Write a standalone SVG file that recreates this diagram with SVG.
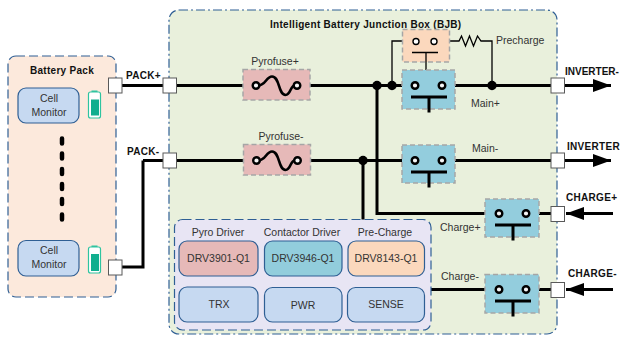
<svg xmlns="http://www.w3.org/2000/svg" width="620" height="337" viewBox="0 0 620 337">
<defs>
<style>
text{font-family:"Liberation Sans",Arial,sans-serif;font-size:10.5px;fill:#333}
.b{font-size:10px;font-weight:bold;fill:#111;letter-spacing:.3px}
.m{text-anchor:middle}
.cont{fill:#93cddd;stroke:#a6a6a6;stroke-width:1.5;stroke-dasharray:5 3}
.fuse{fill:#e6b9b8;stroke:#a6a6a6;stroke-width:1.5;stroke-dasharray:5 3}
.pre{fill:#fbd8bd;stroke:#a6a6a6;stroke-width:1.5;stroke-dasharray:5 3}
.blk{fill:#c6d9f1;stroke:#2f5f94;stroke-width:1.2}
.w{fill:none;stroke:#000;stroke-width:3}
.t{fill:none;stroke:#000;stroke-width:1.3}
.term{fill:#f4f4f4;stroke:#000;stroke-width:2.4}
.port{fill:#fff;stroke:#595959;stroke-width:1}
.bar{fill:none;stroke:#000;stroke-width:3}
.batt{fill:#fff;stroke:#2fc4a0;stroke-width:1.2}
</style>
<marker id="ah" markerUnits="userSpaceOnUse" markerWidth="18" markerHeight="14" refX="18" refY="7" orient="auto"><path d="M0 0.5L18 7L0 13.5Z" fill="#000"/></marker>
<g id="contact">
<path class="bar" d="M-4 11.500H32M14 11.500V27"/>
<circle class="term" cx="0" cy="0" r="3.300"/><circle class="term" cx="27" cy="0" r="3.300"/>
</g>
</defs>
<g id="battery-pack">
<rect x="8" y="56" width="108" height="241" rx="8" fill="#fce9dc" stroke="#2f5f94" stroke-width="1.2" stroke-dasharray="9 4"/>
<text class="b m" x="62" y="74">Battery Pack</text>
</g>
<g id="bjb">
<rect x="169" y="10" width="388" height="324" rx="10" fill="#e9f0dc" stroke="#2f5f94" stroke-width="1.2" stroke-dasharray="9 3 2 3"/>
<text class="b" x="270" y="28">Intelligent Battery Junction Box (BJB)</text>
</g>
<g id="connectors">
<path class="w" d="M122 85.500H551M176 160.500H551M143 160.500H163M122 267H143V160.500"/>
<path class="w" d="M377 85.500V213.500H551M363 160.500V220M431 289.500H551"/>
<path class="t" d="M392 85.500V41H416M434 41H459L461.500 36L465.500 46L469.500 36L473.500 46L477.500 36L481 41H492V85.500M426 52V70"/>
<path class="w" marker-end="url(#ah)" d="M564 85.500H611"/>
<path class="w" marker-end="url(#ah)" d="M564 160.500H611"/>
<path class="w" marker-end="url(#ah)" d="M613 213.500H566"/>
<path class="w" marker-end="url(#ah)" d="M613 289.500H566"/>
<circle cx="377" cy="85.500" r="4.700"/><circle cx="392" cy="85.500" r="4.700"/><circle cx="363" cy="160.500" r="4.700"/><circle cx="492" cy="85.500" r="4.700"/>
</g>
<g id="cell-monitor-1"><rect class="blk" x="18" y="88" width="61" height="35" rx="8"/><text class="m" x="49" y="102">Cell</text><text class="m" x="49" y="116">Monitor</text></g>
<g id="battery-1"><rect class="batt" x="88.500" y="92" width="12" height="26" rx="2"/><rect x="91.500" y="90.500" width="6" height="1.500" fill="#2fc4a0"/><rect x="91" y="99.500" width="8" height="16" fill="#10ae8e"/></g>
<g id="dots" fill="none" stroke="#000" stroke-width="4.500" stroke-linecap="round"><path d="M62 138.500v5M62 153.500v5M62 169v5M62 184v5M62 199v5M62 214.500v5"/></g>
<g id="cell-monitor-2"><rect class="blk" x="18" y="240.500" width="61" height="35.500" rx="8"/><text class="m" x="49" y="254">Cell</text><text class="m" x="49" y="268">Monitor</text></g>
<g id="battery-2"><rect class="batt" x="88.500" y="247" width="12" height="26" rx="2"/><rect x="91.500" y="245.500" width="6" height="1.500" fill="#2fc4a0"/><rect x="91" y="254" width="8" height="17" fill="#10ae8e"/></g>
<g id="port-pack-plus-out"><rect class="port" x="108.500" y="78" width="13.500" height="15"/></g>
<g id="port-pack-minus-out"><rect class="port" x="108.500" y="260" width="13.500" height="15"/></g>
<g id="port-pack-plus"><rect class="port" x="163" y="78" width="13.500" height="15"/><text class="b" x="126" y="79">PACK+</text></g>
<g id="port-pack-minus"><rect class="port" x="163" y="153" width="13.500" height="15"/><text class="b" x="127" y="155">PACK-</text></g>
<g id="port-inverter-plus"><rect class="port" x="551" y="78" width="13.500" height="15"/><text class="b" x="565" y="75" style="letter-spacing:0">INVERTER-</text></g>
<g id="port-inverter-minus"><rect class="port" x="551" y="153" width="13.500" height="15"/><text class="b" x="567" y="150">INVERTER</text></g>
<g id="port-charge-plus"><rect class="port" x="551" y="206.500" width="13.500" height="15"/><text class="b" x="566" y="201">CHARGE+</text></g>
<g id="port-charge-minus"><rect class="port" x="551" y="282.500" width="13.500" height="15"/><text class="b" x="568" y="277">CHARGE-</text></g>
<g id="pyrofuse-plus"><rect class="fuse" x="243" y="69.500" width="67" height="30.500"/>
<path d="M258 85.500C266 85.500 266 76.500 272 76.500C280 76.500 278 95 285.500 95C291 95 290 85.500 295 85.500" fill="none" stroke="#000" stroke-width="2.600"/>
<circle class="term" cx="256" cy="85.500" r="3.300"/><circle class="term" cx="297" cy="85.500" r="3.300"/>
<text class="m" x="275" y="65">Pyrofuse+</text></g>
<g id="pyrofuse-minus"><rect class="fuse" x="243.500" y="144.500" width="67" height="30.500"/>
<path d="M258 160.500C266 160.500 266 151.500 272 151.500C280 151.500 278 170 285.500 170C291 170 290 160.500 295 160.500" fill="none" stroke="#000" stroke-width="2.600"/>
<circle class="term" cx="256.500" cy="160.500" r="3.300"/><circle class="term" cx="297.500" cy="160.500" r="3.300"/>
<text class="m" x="281" y="140">Pyrofuse-</text></g>
<g id="precharge"><rect class="pre" x="402.500" y="29.500" width="47" height="32.500"/>
<path class="t" d="M412 52.500H438M426 52.500V62"/>
<circle cx="416" cy="41.500" r="3" fill="#fff" stroke="#000" stroke-width="1.400"/><circle cx="434" cy="41.500" r="3" fill="#fff" stroke="#000" stroke-width="1.400"/>
<text x="496" y="44">Precharge</text></g>
<g id="main-plus"><rect class="cont" x="402" y="70" width="53" height="39"/><use href="#contact" x="415" y="85.500"/><text x="471" y="107">Main+</text></g>
<g id="main-minus"><rect class="cont" x="402" y="145" width="53" height="38"/><use href="#contact" x="415" y="160.500"/><text x="472" y="152">Main-</text></g>
<g id="charge-plus"><rect class="cont" x="485" y="199" width="54" height="38"/><use href="#contact" x="499" y="213.500"/><text x="440" y="231">Charge+</text></g>
<g id="charge-minus"><rect class="cont" x="485" y="274.500" width="54" height="38.500"/><use href="#contact" x="499" y="289.500"/><text x="441" y="280">Charge-</text></g>
<g id="control-box"><rect x="174.500" y="219.500" width="256.500" height="110.500" rx="8" fill="#e8e5f4" stroke="#2f5f94" stroke-width="1.200" stroke-dasharray="9 4"/>
<text class="m" x="218" y="236">Pyro Driver</text><text class="m" x="302" y="236">Contactor Driver</text><text class="m" x="385" y="236">Pre-Charge</text></g>
<g id="drv3901"><rect x="179" y="241" width="79" height="35" rx="8" fill="#e6b9b8" stroke="#2f5f94" stroke-width="1.200"/><text class="m" x="218.500" y="262">DRV3901-Q1</text></g>
<g id="drv3946"><rect x="264.500" y="241" width="77.500" height="35" rx="8" fill="#92cddc" stroke="#2f5f94" stroke-width="1.200"/><text class="m" x="303" y="262">DRV3946-Q1</text></g>
<g id="drv8143"><rect x="348" y="241" width="76.500" height="35" rx="8" fill="#fbd8bd" stroke="#2f5f94" stroke-width="1.200"/><text class="m" x="386" y="262">DRV8143-Q1</text></g>
<g id="trx"><rect class="blk" x="179" y="287" width="79" height="35" rx="8"/><text class="m" x="219" y="308">TRX</text></g>
<g id="pwr"><rect class="blk" x="264.500" y="287.500" width="77.500" height="34.500" rx="8"/><text class="m" x="303" y="309">PWR</text></g>
<g id="sense"><rect class="blk" x="347.500" y="287.500" width="77" height="34.500" rx="8"/><text class="m" x="386" y="308">SENSE</text></g>
</svg>
